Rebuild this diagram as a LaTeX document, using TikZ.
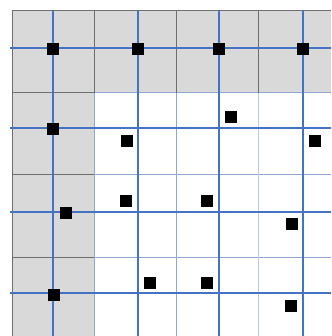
\documentclass[tikz,border=0pt]{standalone}
\begin{document}
\begin{tikzpicture}[x=1pt,y=-1pt,
  cellgray/.style={draw=none,fill=black!15},
  gridgray/.style={draw=black!57,line width=1pt},
  gridlight/.style={draw=blue!35!black!5!cyan!0,line width=1pt},
  bluemain/.style={draw=bluem,line width=1.8pt},
  dot/.style={fill=black,draw=none,minimum size=12pt,inner sep=0pt,outer sep=0pt,rectangle}]
\definecolor{bluem}{HTML}{4472C4}
\definecolor{bluel}{HTML}{8FA8D2}
\definecolor{bluell}{HTML}{BCCAE6}
\useasboundingbox (0,0) rectangle (331,336);
% gray regions
\fill[cellgray] (12,11) rectangle (331,93);
\fill[cellgray] (12,93) rectangle (94,336);
% light blue cell boundaries in white area
\draw[draw=bluel,line width=1pt] (94,93) -- (331,93);
\draw[draw=bluel,line width=1pt] (94,175) -- (331,175);
\draw[draw=bluel,line width=1pt] (94,257) -- (331,257);
\draw[draw=bluel,line width=1pt] (94,93) -- (94,336);
\draw[draw=bluel,line width=1pt] (176,93) -- (176,336);
\draw[draw=bluell,line width=1.5pt] (258.5,93) -- (258.5,336);
% gray cell boundaries in gray area
\draw[gridgray] (12,11) -- (331,11);
\draw[gridgray] (12,11) -- (12,336);
\draw[gridgray] (94,11) -- (94,93);
\draw[gridgray] (176,11) -- (176,93);
\draw[gridgray] (258,11) -- (258,93);
\draw[gridgray] (12,93) -- (94,93);
\draw[gridgray] (12,175) -- (94,175);
\draw[gridgray] (12,257) -- (94,257);
% main blue lines
\foreach \x in {53,138,219,303} \draw[bluemain] (\x,10) -- (\x,336);
\foreach \y in {48,128,212,293} \draw[bluemain] (10,\y) -- (331,\y);
% black squares
\node[dot] (s1) at (53,49) {};
\node[dot] (s2) at (138,49) {};
\node[dot] (s3) at (219,49) {};
\node[dot] (s4) at (303,49) {};
\node[dot] (s5) at (53,129) {};
\node[dot] (s6) at (127,141) {};
\node[dot] (s7) at (231,117) {};
\node[dot] (s8) at (315,141) {};
\node[dot] (s9) at (126,201) {};
\node[dot] (s10) at (66,213) {};
\node[dot] (s11) at (207,201) {};
\node[dot] (s12) at (292,224) {};
\node[dot] (s13) at (150,283) {};
\node[dot] (s14) at (54,295) {};
\node[dot] (s15) at (207,283) {};
\node[dot] (s16) at (291,306) {};
\end{tikzpicture}
\end{document}
